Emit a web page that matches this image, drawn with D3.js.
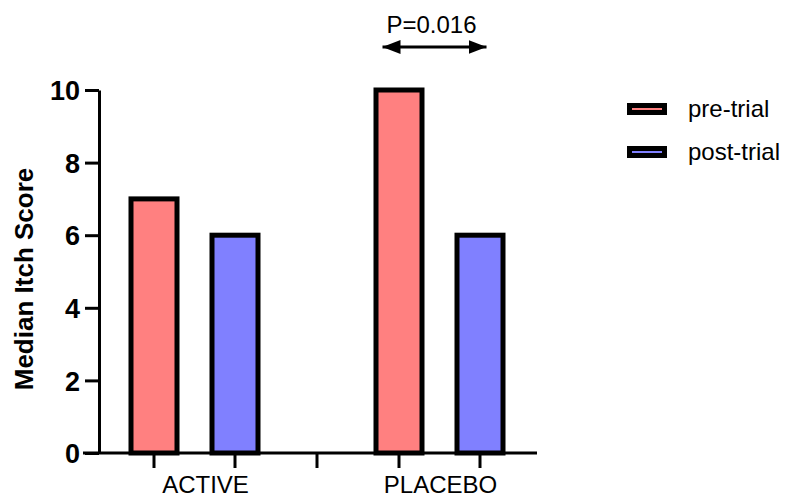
<!DOCTYPE html>
<html lang="en">
<head>
    <meta charset="UTF-8">
    <title>Median Itch Score</title>
    <script src="https://cdn.jsdelivr.net/npm/d3@7"></script>
    <style>
        body {
            margin: 0;
            background: #ffffff;
            font-family: Arial, 'Liberation Sans', sans-serif;
        }
        svg text { fill: #000; }
    </style>
</head>
<body>
    <svg id="chart" width="786" height="497"></svg>
    <script>
        // data
        const groups = ["ACTIVE", "PLACEBO"];
        const series = ["pre-trial", "post-trial"];
        const preTrial = [7, 10];
        const postTrial = [6, 6];
        const yTicks = [0, 2, 4, 6, 8, 10];
        const pLabel = "P=0.016";

        const colors = { "pre-trial": "#ff8080", "post-trial": "#8080ff" };
        const svg = d3.select("#chart");

        const yScale = d3.scaleLinear().domain([0, 10]).range([453, 90]);
        const xGroup = d3.scaleBand().domain(groups).range([72, 562]);
        const xInner = d3.scalePoint().domain(series).range([82, 163]);

        const barWidth = 46;
        const rows = [];
        groups.forEach((g, i) => {
            rows.push({ group: g, series: "pre-trial", value: preTrial[i] });
            rows.push({ group: g, series: "post-trial", value: postTrial[i] });
        });
        const xc = d => xGroup(d.group) + xInner(d.series);

        // bars
        svg.append("g").selectAll("rect")
            .data(rows)
            .enter().append("rect")
            .attr("x", d => xc(d) - barWidth / 2)
            .attr("y", d => yScale(d.value))
            .attr("width", barWidth)
            .attr("height", d => yScale(0) - yScale(d.value))
            .attr("fill", d => colors[d.series])
            .attr("stroke", "#000")
            .attr("stroke-width", 5);

        // y axis
        const yAxis = svg.append("g")
            .attr("transform", "translate(99,0)")
            .call(d3.axisLeft(yScale).tickValues(yTicks).tickSize(14).tickSizeOuter(0).tickPadding(5));
        yAxis.selectAll("path, line").attr("stroke", "#000").attr("stroke-width", 3);
        yAxis.selectAll("text")
            .attr("font-family", "Arial, 'Liberation Sans', sans-serif")
            .attr("font-size", 27)
            .attr("font-weight", "bold")
            .attr("dy", "0.36em");

        svg.append("text")
            .attr("transform", "translate(33,279) rotate(-90)")
            .attr("text-anchor", "middle")
            .attr("font-size", 26)
            .attr("font-weight", "bold")
            .text("Median Itch Score");

        // x axis
        svg.append("line")
            .attr("x1", 83).attr("x2", 537)
            .attr("y1", yScale(0)).attr("y2", yScale(0))
            .attr("stroke", "#000").attr("stroke-width", 3);

        const tickXs = rows.map(xc).concat([xGroup("PLACEBO")]);
        svg.append("g").selectAll("line")
            .data(tickXs)
            .enter().append("line")
            .attr("x1", d => d).attr("x2", d => d)
            .attr("y1", yScale(0)).attr("y2", yScale(0) + 15)
            .attr("stroke", "#000").attr("stroke-width", 3);

        const labelShift = { "ACTIVE": 11, "PLACEBO": 1 };
        svg.append("g").selectAll("text")
            .data(groups)
            .enter().append("text")
            .attr("x", d => xGroup(d) + xGroup.bandwidth() / 2 + labelShift[d])
            .attr("y", 493)
            .attr("text-anchor", "middle")
            .attr("font-size", 24)
            .text(d => d);

        // significance arrow
        const defs = svg.append("defs");
        ["start", "end"].forEach(k => {
            defs.append("marker")
                .attr("id", "arrow-" + k)
                .attr("viewBox", "0 0 18 14")
                .attr("refX", k === "end" ? 18 : 0)
                .attr("refY", 7)
                .attr("markerWidth", 18)
                .attr("markerHeight", 14)
                .attr("markerUnits", "userSpaceOnUse")
                .attr("orient", "auto")
                .append("path")
                .attr("d", k === "end" ? "M0,0 L18,7 L0,14 Z" : "M18,0 L0,7 L18,14 Z")
                .attr("fill", "#000");
        });
        const pc = xGroup("PLACEBO") + xGroup.bandwidth() / 2;
        svg.append("line")
            .attr("x1", pc - 57).attr("x2", pc + 47)
            .attr("y1", 47).attr("y2", 47)
            .attr("stroke", "#000").attr("stroke-width", 3)
            .attr("marker-start", "url(#arrow-start)")
            .attr("marker-end", "url(#arrow-end)");
        svg.append("text")
            .attr("x", pc - 8)
            .attr("y", 33)
            .attr("text-anchor", "middle")
            .attr("font-size", 24)
            .text(pLabel);

        // legend
        const legend = svg.append("g").selectAll("g")
            .data(series)
            .enter().append("g")
            .attr("transform", (d, i) => `translate(627,${109 + i * 43})`);
        legend.append("rect")
            .attr("x", 2.5).attr("y", -3.5)
            .attr("width", 35).attr("height", 7)
            .attr("fill", d => colors[d])
            .attr("stroke", "#000").attr("stroke-width", 5);
        legend.append("text")
            .attr("x", 61).attr("y", 8)
            .attr("font-size", 24)
            .text(d => d);
    </script>
</body>
</html>
